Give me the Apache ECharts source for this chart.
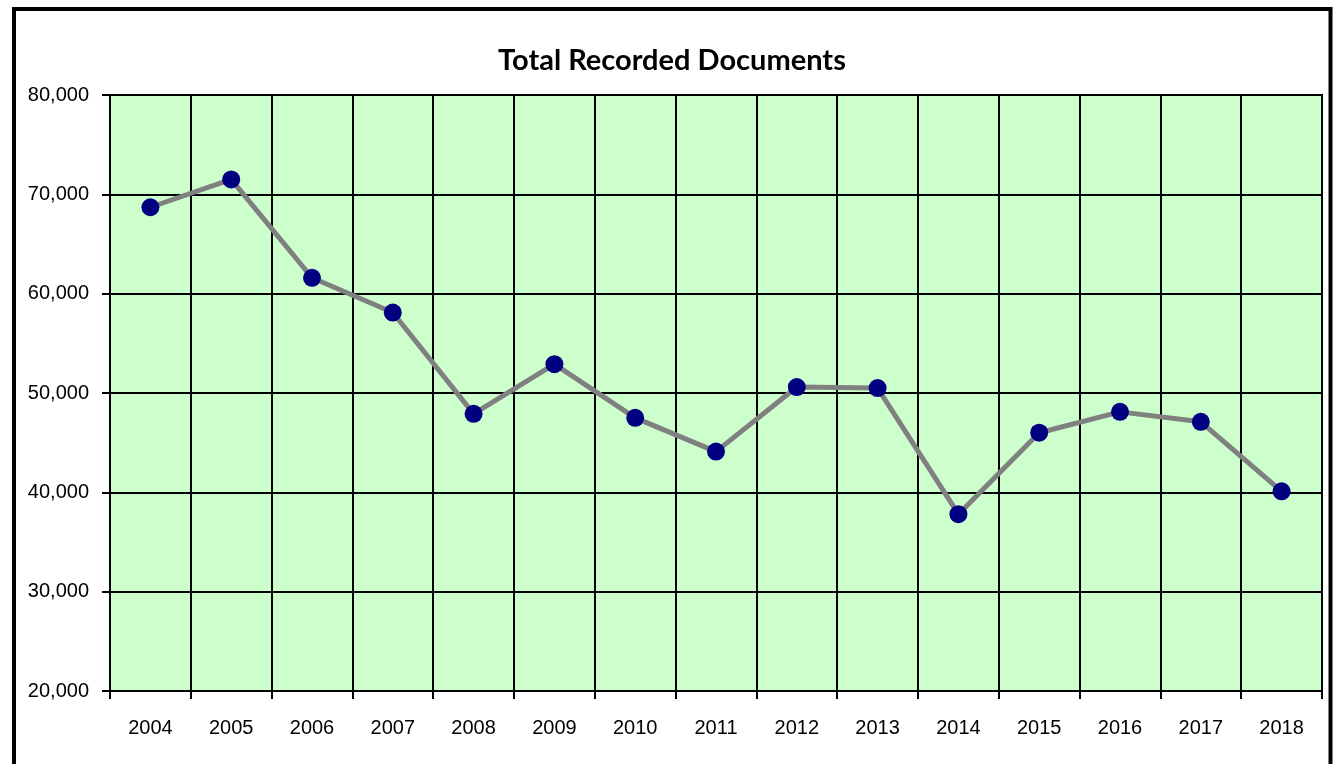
<!DOCTYPE html>
<html>
<head>
<meta charset="utf-8">
<style>
  html, body { margin: 0; padding: 0; background: #fff; }
  #chart { width: 1338px; height: 764px; }
</style>
<script src="https://cdn.jsdelivr.net/npm/echarts@6/dist/echarts.min.js"></script>
</head>
<body>
<div id="chart"></div>
<script>
// chart data
const years = ["2004", "2005", "2006", "2007", "2008", "2009", "2010", "2011",
  "2012", "2013", "2014", "2015", "2016", "2017", "2018"];
const documents = [68700, 71500, 61600, 58100, 47900, 52900, 47500, 44100,
  50600, 50500, 37800, 46000, 48100, 47100, 40100];
const yTicks = [20000, 30000, 40000, 50000, 60000, 70000, 80000];

const chart = echarts.init(document.getElementById("chart"));

const labelFont = "'Liberation Sans', Arial, sans-serif";

chart.setOption({
  animation: false,
  backgroundColor: "#ffffff",
  title: {
    text: "Total Recorded Documents",
    left: 672,
    textAlign: "center",
    top: 46,
    padding: 0,
    textStyle: {
      fontFamily: "Lato",
      fontWeight: "bold",
      fontSize: 29,
      color: "#000"
    }
  },
  // outer frame of the picture
  graphic: [
    {
      type: "rect",
      shape: { x: 14, y: 9, width: 1316.5, height: 800 },
      style: { fill: null, stroke: "#000", lineWidth: 4 },
      silent: true
    }
  ],
  grid: {
    left: 110,
    top: 95,
    right: 16,
    bottom: 73,
    show: true,
    backgroundColor: "#CCFFCC",
    borderColor: "#000",
    borderWidth: 2
  },
  xAxis: {
    type: "category",
    data: years,
    boundaryGap: true,
    axisLine: { lineStyle: { color: "#000", width: 2 } },
    axisTick: { show: true, length: 8, alignWithLabel: false, lineStyle: { color: "#000", width: 2 } },
    axisLabel: {
      margin: 27,
      color: "#000",
      fontFamily: labelFont,
      fontSize: 20
    },
    splitLine: { show: true, interval: 0, lineStyle: { color: "#000", width: 2 } }
  },
  yAxis: {
    type: "value",
    min: yTicks[0],
    max: yTicks[yTicks.length - 1],
    interval: 10000,
    axisLine: { show: true, lineStyle: { color: "#000", width: 2 } },
    axisTick: { show: true, length: 8, lineStyle: { color: "#000", width: 2 } },
    axisLabel: {
      margin: 21,
      color: "#000",
      fontFamily: labelFont,
      fontSize: 20,
      formatter: v => v.toLocaleString("en-US")
    },
    splitLine: { show: true, lineStyle: { color: "#000", width: 2 } }
  },
  series: [
    {
      type: "line",
      data: documents,
      symbol: "circle",
      symbolSize: 18,
      lineStyle: { color: "#808080", width: 5 },
      itemStyle: { color: "#000080" }
    }
  ]
});
</script>
</body>
</html>
